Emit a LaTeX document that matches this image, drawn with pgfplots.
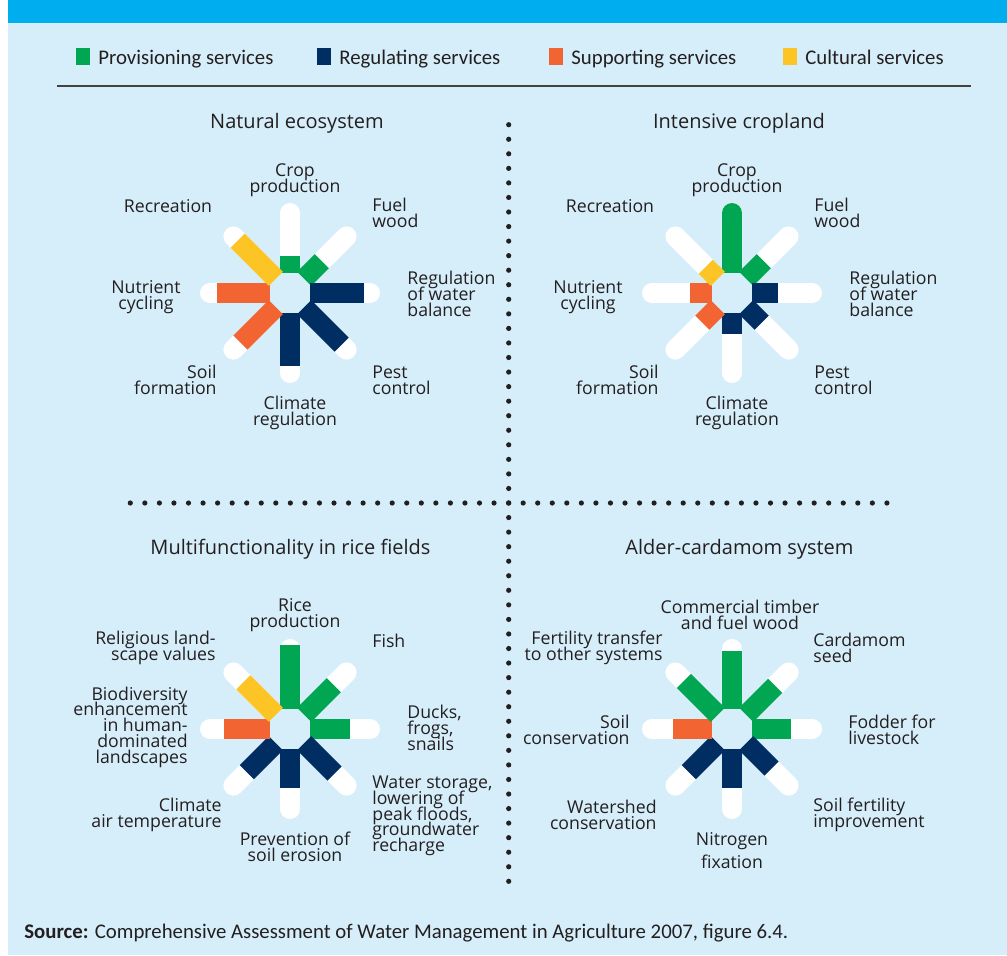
\documentclass[border=0pt]{standalone}
\usepackage{fontspec}
\setmainfont{Open Sans}
\newfontfamily\legfont{Carlito}
\usepackage{pgfplots}
\pgfplotsset{compat=1.18}
\usepgfplotslibrary{polar}

\definecolor{band}{HTML}{00AEEF}
\definecolor{bgblue}{HTML}{D6EEFA}
\definecolor{prov}{HTML}{00A651}
\definecolor{reg}{HTML}{002D62}
\definecolor{supp}{HTML}{F26532}
\definecolor{cult}{HTML}{FDC425}
\definecolor{txt}{HTML}{231F20}

% radius unit = 20px: inner end of every spoke at 1, outer end at 4.5
\pgfplotsset{
  flower/.style={hide axis,scale only axis,width=90pt,height=90pt,
    xmin=0,xmax=360,ymin=0,ymax=4.5,clip=false,anchor=center},
  spoke/.style={no markers,line width=10pt,line cap=butt},
  blank/.style={no markers,draw=white,line width=10pt,line cap=round},
}
\newcommand{\blankspokes}{%
  \pgfplotsinvokeforeach{0,45,90,135,180,225,270,315}{
    \addplot[blank] coordinates {(##1,1.5) (##1,4)};}}

% label lines are set closer than the type size
\newcommand{\labfont}{\fontsize{8.85}{7.85}\selectfont\lineskiplimit=-20pt\relax}
\tikzset{
  lab/.style={font=\labfont,text=txt,inner sep=0pt,align=center},
  labl/.style={lab,anchor=west,align=left},
  labr/.style={lab,anchor=east,align=right},
  ttl/.style={font=\fontsize{10}{12}\selectfont,text=txt,inner sep=0pt},
}

\begin{document}
\begin{tikzpicture}[x=0.5pt,y=-0.5pt]
\fill[white] (0,0) rectangle (1007,955);
\fill[band] (8,0) rectangle (1007,23);
\fill[bgblue] (8,23) rectangle (1007,955);

% legend
\foreach \xx/\cc/\tt in {76/prov/Provisioning services,317/reg/Regulating services,
    549/supp/Supporting services,783/cult/Cultural services}{
  \fill[\cc] (\xx,48) rectangle ++(14,17);
  \node[anchor=base west,inner sep=0pt,text=txt,font=\legfont\fontsize{10.4}{12}\selectfont]
    at (\xx+22,64) {\tt};
}
\draw[txt!85,line width=0.75pt] (57,86) -- (971,86);

% dotted dividers
\foreach \k in {0,...,52}{
  \fill[txt] (508.7,124.7+14.55*\k) circle (2.6);
  \fill[txt] (130.3+14.55*\k,503) circle (2.6);
}

\coordinate (c1) at (290,293);
\coordinate (c2) at (732,293);
\coordinate (c3) at (290,729);
\coordinate (c4) at (732,729);

% Natural ecosystem
\begin{polaraxis}[flower,at={(c1)}]
\blankspokes
\addplot[spoke,draw=prov] coordinates {(90,1) (90,1.85)};
\addplot[spoke,draw=prov] coordinates {(45,1) (45,2.25)};
\addplot[spoke,draw=reg] coordinates {(0,1) (0,3.7)};
\addplot[spoke,draw=reg] coordinates {(315,1) (315,3.65)};
\addplot[spoke,draw=reg] coordinates {(270,1) (270,3.65)};
\addplot[spoke,draw=supp] coordinates {(225,1) (225,3.5)};
\addplot[spoke,draw=supp] coordinates {(180,1) (180,3.65)};
\addplot[spoke,draw=cult] coordinates {(135,1) (135,3.7)};
\end{polaraxis}

% Intensive cropland
\begin{polaraxis}[flower,at={(c2)}]
\blankspokes
\addplot[spoke,draw=prov] coordinates {(90,1) (90,2)};
\addplot[spoke,draw=prov,line cap=round] coordinates {(90,1.5) (90,4)};
\addplot[spoke,draw=prov] coordinates {(45,1) (45,2.25)};
\addplot[spoke,draw=reg] coordinates {(0,1) (0,2.3)};
\addplot[spoke,draw=reg] coordinates {(315,1) (315,2.1)};
\addplot[spoke,draw=reg] coordinates {(270,1) (270,2.05)};
\addplot[spoke,draw=supp] coordinates {(225,1) (225,2.1)};
\addplot[spoke,draw=supp] coordinates {(180,1) (180,2.1)};
\addplot[spoke,draw=cult] coordinates {(135,1) (135,1.85)};
\end{polaraxis}

% Rice fields
\begin{polaraxis}[flower,at={(c3)}]
\blankspokes
\addplot[spoke,draw=prov] coordinates {(90,1) (90,4.2)};
\addplot[spoke,draw=prov] coordinates {(45,1) (45,3.1)};
\addplot[spoke,draw=prov] coordinates {(0,1) (0,3.0)};
\addplot[spoke,draw=reg] coordinates {(315,1) (315,3.15)};
\addplot[spoke,draw=reg] coordinates {(270,1) (270,2.95)};
\addplot[spoke,draw=reg] coordinates {(225,1) (225,3.05)};
\addplot[spoke,draw=supp] coordinates {(180,1) (180,3.3)};
\addplot[spoke,draw=cult] coordinates {(135,1) (135,3.3)};
\end{polaraxis}

% Alder-cardamom
\begin{polaraxis}[flower,at={(c4)}]
\blankspokes
\addplot[spoke,draw=prov] coordinates {(90,1) (90,3.9)};
\addplot[spoke,draw=prov] coordinates {(45,1) (45,3.05)};
\addplot[spoke,draw=prov] coordinates {(0,1) (0,2.95)};
\addplot[spoke,draw=reg] coordinates {(315,1) (315,2.8)};
\addplot[spoke,draw=reg] coordinates {(270,1) (270,2.95)};
\addplot[spoke,draw=reg] coordinates {(225,1) (225,3.05)};
\addplot[spoke,draw=supp] coordinates {(180,1) (180,2.95)};
\addplot[spoke,draw=prov] coordinates {(135,1) (135,3.4)};
\end{polaraxis}

% titles
\node[ttl] at (297,123) {Natural ecosystem};
\node[ttl] at (739,123) {Intensive cropland};
\node[ttl] at (290.5,549) {Multifunctionality in rice fields};
\node[ttl] at (739.5,549) {Alder-cardamom system};

% labels, top two panels share one layout
\foreach \dx in {0,442}{
  \node[lab] at (295+\dx,180) {Crop\\production};
  \node[labl] at (372+\dx,213) {Fuel\\wood};
  \node[labl] at (407+\dx,294) {Regulation\\of water\\balance};
  \node[labl] at (372+\dx,380) {Pest\\control};
  \node[lab] at (295+\dx,413) {Climate\\regulation};
  \node[labr] at (217+\dx,380) {Soil\\formation};
  \node[lab,anchor=east] at (181+\dx,297) {Nutrient\\cycling};
  \node[lab] at (168+\dx,206) {Recreation};
}

\node[lab] at (295,615) {Rice\\production};
\node[labl] at (372,641) {Fish};
\node[labl] at (407,728) {Ducks,\\frogs,\\snails};
\node[labl] at (372,816) {Water storage,\\lowering of\\peak floods,\\groundwater\\recharge};
\node[lab] at (295,847) {Prevention of\\soil erosion};
\node[labr] at (222,815) {Climate\\air temperature};
\node[labr] at (188,727) {Biodiversity\\enhancement\\in human-\\dominated\\landscapes};
\node[labr] at (216,648) {Religious land-\\scape values};

\node[lab] at (740,615) {Commercial timber\\and fuel wood};
\node[labl] at (813,648) {Cardamom\\seed};
\node[labl] at (848,730) {Fodder for\\livestock};
\node[labl] at (813,815) {Soil fertility\\improvement};
\node[lab,font=\fontsize{8.85}{11.5}\selectfont] at (732,851) {Nitrogen\\fixation};
\node[labr] at (657,815) {Watershed\\conservation};
\node[labr] at (630,730) {Soil\\conservation};
\node[labr] at (663,648) {Fertility transfer\\to other systems};

% source
\node[anchor=base west,inner sep=0pt,text=txt,font=\legfont\fontsize{10.4}{12}\selectfont]
  at (24,938) {\textbf{Source:} Comprehensive Assessment of Water Management in Agriculture 2007, figure 6.4.};
\end{tikzpicture}
\end{document}
